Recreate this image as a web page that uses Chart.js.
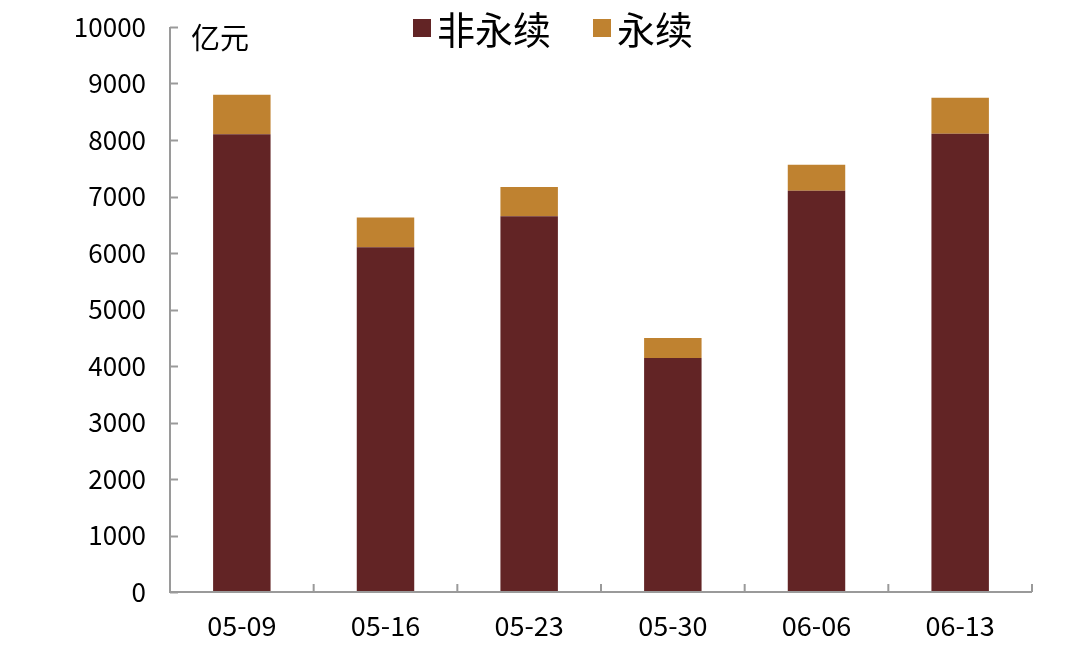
<!DOCTYPE html>
<html>
<head>
<meta charset="utf-8">
<script src="https://cdn.jsdelivr.net/npm/chart.js@4/dist/chart.umd.min.js"></script>
<style>
  html, body { margin: 0; padding: 0; background: #fff; }
  #wrap { position: relative; width: 1080px; height: 652px; }
  #legend {
    position: absolute; top: 0px; left: 413px;
    display: flex; align-items: center;
    font-family: "Noto Sans CJK SC", sans-serif; font-size: 38px; color: #000;
  }
  #legend span.box { display: inline-block; width: 18px; height: 18px; margin-right: 6px; }
  #legend span.item { display: flex; align-items: center; margin-right: 42px; }
  #unit {
    position: absolute; top: 15px; left: 191px;
    font-family: "Noto Sans CJK SC", sans-serif; font-size: 29px; color: #000;
  }
</style>
</head>
<body>
<div id="wrap">
  <canvas id="chart" width="1080" height="652"></canvas>
  <div id="legend"></div>
  <div id="unit">亿元</div>
</div>
<script>
// Data
const categories = ["05-09", "05-16", "05-23", "05-30", "06-06", "06-13"];
const nonPerpetual = [8100, 6100, 6650, 4140, 7100, 8110];   // 非永续
const perpetual = [700, 530, 520, 355, 460, 640];            // 永续
const yTicks = [0, 1000, 2000, 3000, 4000, 5000, 6000, 7000, 8000, 9000, 10000];

const seriesNames = ["非永续", "永续"];
const seriesColors = ["#622425", "#BF8230"];

const axisColor = "#9a9a9a";
const tickFont = { family: "Noto Sans CJK SC", size: 26 };

// Axis lines with tick marks pointing inward
const axesPlugin = {
    id: "innerAxes",
    afterDatasetsDraw(chart) {
        const ctx = chart.ctx;
        const x = chart.scales.x;
        const y = chart.scales.y;
        const left = x.left, right = x.right, bottom = y.bottom, top = y.top;
        ctx.save();
        ctx.strokeStyle = axisColor;
        ctx.lineWidth = 2;
        ctx.beginPath();
        ctx.moveTo(left, top);
        ctx.lineTo(left, bottom);
        ctx.lineTo(right, bottom);
        ctx.stroke();

        // y ticks
        yTicks.forEach(v => {
            const py = Math.round(y.getPixelForValue(v)) + 0.5;
            ctx.beginPath();
            ctx.moveTo(left, py);
            ctx.lineTo(left + 8, py);
            ctx.stroke();
        });

        // x ticks between categories
        const step = x.width / categories.length;
        for (let i = 1; i <= categories.length; i++) {
            const px = left + step * i;
            ctx.beginPath();
            ctx.moveTo(px, bottom);
            ctx.lineTo(px, bottom - 8);
            ctx.stroke();
        }
        ctx.restore();
    }
};

const ctx = document.getElementById("chart").getContext("2d");
const chart = new Chart(ctx, {
    type: "bar",
    data: {
        labels: categories,
        datasets: [
            { label: seriesNames[0], data: nonPerpetual, backgroundColor: seriesColors[0] },
            { label: seriesNames[1], data: perpetual, backgroundColor: seriesColors[1] }
        ]
    },
    options: {
        responsive: false,
        animation: false,
        layout: { padding: { top: 27, right: 48, left: 0, bottom: 0 } },
        plugins: {
            legend: { display: false },
            tooltip: { enabled: false }
        },
        datasets: {
            bar: { barPercentage: 0.8, categoryPercentage: 0.5 }
        },
        scales: {
            x: {
                stacked: true,
                grid: { display: false, drawTicks: false },
                border: { display: false },
                ticks: { color: "#000", font: { family: "Noto Sans CJK SC", size: 27 }, padding: 18, maxRotation: 0 },
                afterFit: scale => { scale.height = 60; scale.paddingLeft = 0; scale.paddingRight = 0; }
            },
            y: {
                stacked: true,
                min: 0,
                max: 10000,
                grid: { display: false, drawTicks: false },
                border: { display: false },
                ticks: {
                    stepSize: 1000, color: "#000", font: tickFont, padding: 24,
                    callback: v => String(v)
                },
                afterFit: scale => { scale.width = 170; scale.paddingTop = 0; scale.paddingBottom = 0; }
            }
        }
    },
    plugins: [axesPlugin]
});

// HTML legend from the datasets
const legend = document.getElementById("legend");
chart.data.datasets.forEach(ds => {
    const item = document.createElement("span");
    item.className = "item";
    item.innerHTML = `<span class="box" style="background:${ds.backgroundColor}"></span>${ds.label}`;
    legend.appendChild(item);
});
</script>
</body>
</html>
